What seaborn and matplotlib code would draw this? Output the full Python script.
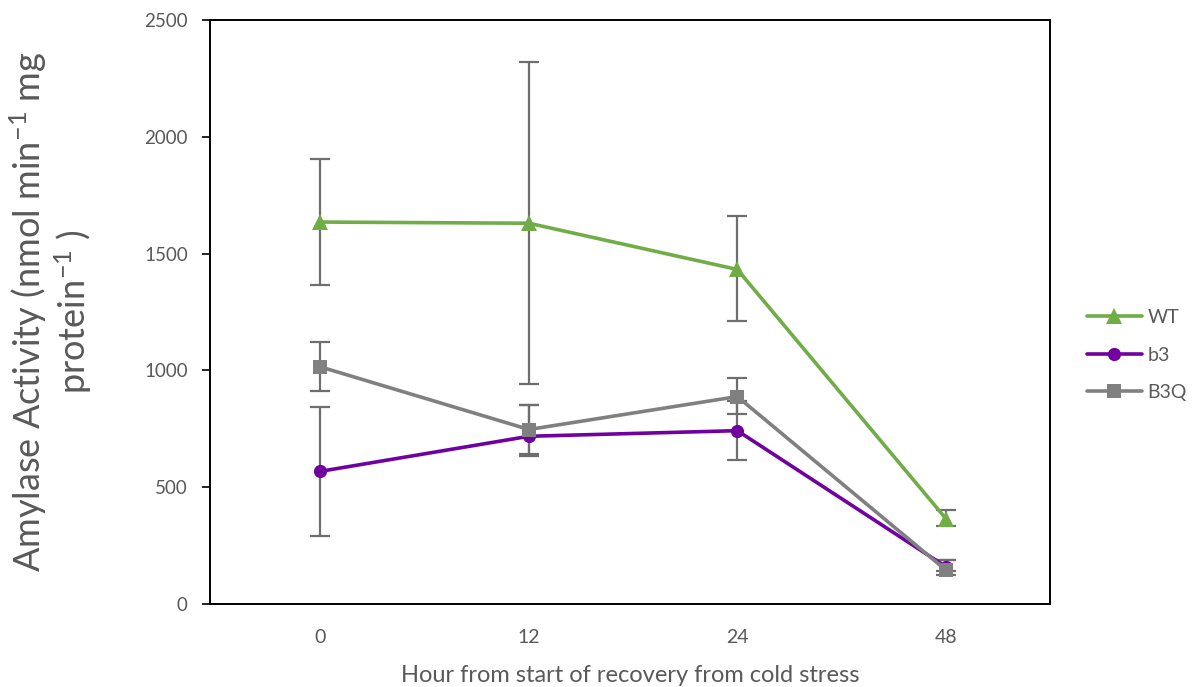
import numpy as np
import pandas as pd
import matplotlib
matplotlib.use("Agg")
import matplotlib.pyplot as plt
import seaborn as sns

hours = ["0", "12", "24", "48"]
series = ["WT", "b3", "B3Q"]
wt = [1635, 1630, 1432, 366]
wt_err_lo = [268, 690, 222, 30]
wt_err_hi = [268, 690, 228, 36]
b3 = [568, 718, 742, 160]
b3_err_lo = [275, 85, 125, 20]
b3_err_hi = [275, 132, 125, 30]
b3q = [1015, 747, 888, 146]
b3q_err_lo = [105, 105, 75, 20]
b3q_err_hi = [107, 105, 79, 42]

colors = {"WT": "#70AD47", "b3": "#7000A0", "B3Q": "#808080"}
markers = {"WT": "^", "b3": "o", "B3Q": "s"}
msizes = {"WT": 11, "b3": 9.5, "B3Q": 9.5}

sns.set_style("white")
plt.rcParams["font.family"] = ["Lato", "DejaVu Sans"]
plt.rcParams["mathtext.fontset"] = "custom"
plt.rcParams["mathtext.rm"] = "Lato"
plt.rcParams["mathtext.it"] = "Lato:italic"
plt.rcParams["mathtext.bf"] = "Lato:bold"

rows = []
for name, vals, lo, hi in [("WT", wt, wt_err_lo, wt_err_hi),
                           ("b3", b3, b3_err_lo, b3_err_hi),
                           ("B3Q", b3q, b3q_err_lo, b3q_err_hi)]:
    for i, (h, v, l, u) in enumerate(zip(hours, vals, lo, hi)):
        rows.append({"series": name, "hour": h, "pos": i, "value": v, "lo": l, "hi": u})
df = pd.DataFrame(rows)

fig = plt.figure(figsize=(11.96, 6.87), dpi=100)
ax = fig.add_axes([0.1756, 0.1208, 0.7023, 0.8501])

errc = "#6E6E6E"
for k, name in enumerate(series):
    d = df[df.series == name]
    ax.errorbar(d["pos"], d["value"], yerr=[d["lo"], d["hi"]], fmt="none", ecolor=errc,
                elinewidth=1.6, capsize=7, capthick=1.6, zorder=2 + k)

for k, name in enumerate(series):
    d = df[df.series == name]
    sns.lineplot(data=d, x="pos", y="value", ax=ax, color=colors[name],
                 marker=markers[name], markersize=msizes[name],
                 markeredgewidth=0, linewidth=2.6, label=name, zorder=5 + k,
                 errorbar=None, sort=False)

ax.set_xlim(-0.53, 3.5)
ax.set_ylim(0, 2500)
ax.set_xticks(range(len(hours)))
ax.set_xticklabels(hours)
ax.set_yticks([0, 500, 1000, 1500, 2000, 2500])
ax.tick_params(axis="x", length=0, pad=18, labelsize=14, labelcolor="#595959")
ax.tick_params(axis="y", left=True, length=6, width=1.2, color="black",
               labelsize=13.5, labelcolor="#595959", pad=10)
for s in ax.spines.values():
    s.set_color("black")
    s.set_linewidth(1.4)

ax.set_xlabel("Hour from start of recovery from cold stress", fontsize=17,
              color="#595959", labelpad=14)
ax.set_ylabel("Amylase Activity (nmol min$^{-1}$ mg\nprotein$^{-1}$ )",
              fontsize=26, color="#595959", labelpad=36, linespacing=1.12)

leg = ax.legend(loc="center left", bbox_to_anchor=(1.035, 0.426), frameon=False,
                fontsize=14, labelspacing=1.05, handlelength=2.8,
                handletextpad=0.3, borderaxespad=0)
for t in leg.get_texts():
    t.set_color("#595959")

fig.savefig("out.png", dpi=100)
